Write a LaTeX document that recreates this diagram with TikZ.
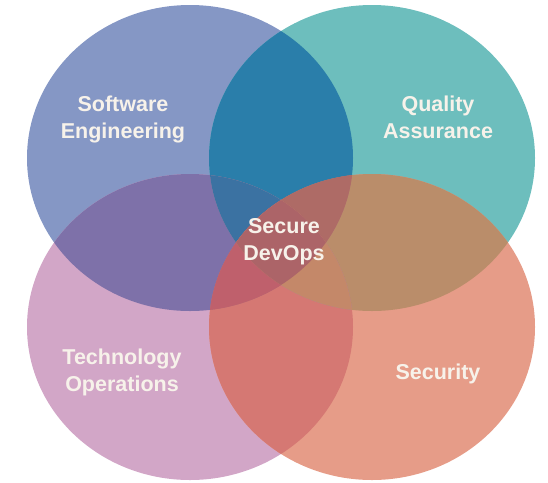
\documentclass[tikz,border=0pt]{standalone}
\usepackage{fontspec}
\setmainfont{Liberation Sans}
\usetikzlibrary{positioning}
\definecolor{swblue}{HTML}{8597C5}
\definecolor{qateal}{HTML}{6DBEBD}
\definecolor{toplum}{HTML}{D2A6C7}
\definecolor{secsalmon}{HTML}{E69C88}
\definecolor{swqa}{HTML}{2A7EAA}
\definecolor{swto}{HTML}{7E71A9}
\definecolor{qasec}{HTML}{BA8D6A}
\definecolor{tosec}{HTML}{D57873}
\definecolor{swsec}{HTML}{B06C78}
\definecolor{qato}{HTML}{A88A9A}
\definecolor{swqato}{HTML}{3B72A2}
\definecolor{swqasec}{HTML}{AE6B66}
\definecolor{swtosec}{HTML}{BF606C}
\definecolor{qatosec}{HTML}{C48869}
\definecolor{allfour}{HTML}{AC6468}
\definecolor{labelwhite}{HTML}{F7F2EA}
\newcommand{\ovsw}{(190,158) ellipse [x radius=163pt, y radius=153pt]}
\newcommand{\ovqa}{(372,158) ellipse [x radius=163pt, y radius=153pt]}
\newcommand{\ovto}{(190,327) ellipse [x radius=163pt, y radius=153pt]}
\newcommand{\ovsec}{(372,327) ellipse [x radius=163pt, y radius=153pt]}
\begin{document}
\begin{tikzpicture}[x=1pt,y=-1pt,
  lbl/.style={text=labelwhite, font=\bfseries\fontsize{21.5}{27}\selectfont, align=center}]
\useasboundingbox (0,0) rectangle (548,482);

% Single circles
\fill[swblue] \ovsw;
\fill[qateal] \ovqa;
\fill[toplum] \ovto;
\fill[secsalmon] \ovsec;

% Overlaps of two
\begin{scope}\clip \ovsw; \fill[swqa] \ovqa; \end{scope}
\begin{scope}\clip \ovsw; \fill[swto] \ovto; \end{scope}
\begin{scope}\clip \ovqa; \fill[qasec] \ovsec; \end{scope}
\begin{scope}\clip \ovto; \fill[tosec] \ovsec; \end{scope}
\begin{scope}\clip \ovsw; \fill[swsec] \ovsec; \end{scope}
\begin{scope}\clip \ovqa; \fill[qato] \ovto; \end{scope}

% Overlaps of three
\begin{scope}\clip \ovsw; \clip \ovqa; \fill[swqato] \ovto; \end{scope}
\begin{scope}\clip \ovsw; \clip \ovqa; \fill[swqasec] \ovsec; \end{scope}
\begin{scope}\clip \ovsw; \clip \ovto; \fill[swtosec] \ovsec; \end{scope}
\begin{scope}\clip \ovqa; \clip \ovto; \fill[qatosec] \ovsec; \end{scope}

% Middle
\begin{scope}\clip \ovsw; \clip \ovqa; \clip \ovto; \fill[allfour] \ovsec; \end{scope}

% Labels
\node[lbl] (swlbl) at (123,119) {Software\\Engineering};
\node[lbl] (qalbl) at (438,117) {Quality\\Assurance};
\node[lbl] (midlbl) at (284,242) {Secure\\DevOps};
\node[lbl] (tolbl) at (122,372) {Technology\\Operations};
\node[lbl] (seclbl) at (438,374) {Security};
\end{tikzpicture}
\end{document}
